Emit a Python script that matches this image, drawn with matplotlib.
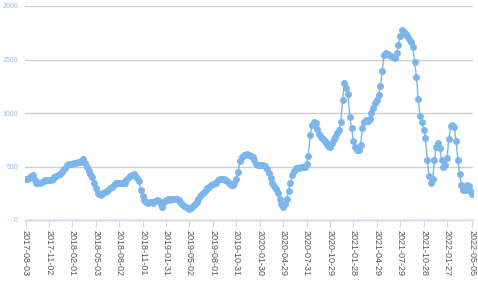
import matplotlib
matplotlib.use("Agg")
import matplotlib.pyplot as plt
import numpy as np

# weekly values, one row per quarter (13 weeks)
values = [
    385, 385, 392, 415, 425, 370, 350, 345, 350, 355, 362, 370, 370,
    370, 372, 385, 398, 408, 418, 430, 445, 465, 485, 510, 520, 525,
    528, 532, 535, 538, 540, 550, 568, 530, 495, 455, 430, 405, 350,
    300, 255, 240, 238, 250, 260, 270, 282, 295, 310, 328, 343, 348,
    350, 350, 346, 348, 370, 395, 408, 420, 430, 415, 395, 360, 280,
    220, 185, 170, 160, 165, 170, 160, 175, 190, 175, 150, 125, 165,
    190, 192, 188, 192, 195, 200, 198, 185, 165, 148, 135, 118, 110,
    105, 112, 128, 150, 172, 198, 220, 245, 265, 282, 298, 312, 325,
    340, 345, 345, 375, 385, 385, 382, 378, 365, 345, 330, 330, 345,
    380, 450, 550, 590, 605, 610, 615, 610, 600, 590, 560, 520, 510,
    510, 510, 510, 505, 480, 440, 390, 350, 320, 290, 255, 200, 145,
    120, 150, 200, 270, 350, 420, 460, 485, 490, 490, 492, 495, 500,
    525, 600, 790, 890, 915, 910, 850, 800, 775, 755, 735, 718, 695,
    685, 720, 755, 780, 810, 840, 920, 1120, 1280, 1230, 1180, 960, 860,
    740, 680, 655, 655, 700, 860, 920, 935, 925, 940, 1000, 1050, 1090,
    1120, 1170, 1250, 1390, 1540, 1560, 1555, 1545, 1535, 1520, 1515, 1560, 1640,
    1720, 1780, 1760, 1740, 1720, 1690, 1660, 1620, 1480, 1340, 1130, 970, 920,
    845, 770, 560, 410, 345, 380, 560, 680, 715, 670, 560, 500, 510,
    580, 760, 880, 885, 870, 740, 560, 430, 330, 285, 280, 330, 320, 270, 245,
]

tick_labels = ["2017-08-03", "2017-11-02", "2018-02-01", "2018-05-03", "2018-08-02",
               "2018-11-01", "2019-01-31", "2019-05-02", "2019-08-01", "2019-10-31",
               "2020-01-30", "2020-04-29", "2020-07-31", "2020-10-29", "2021-01-28",
               "2021-04-29", "2021-07-29", "2021-10-28", "2022-01-27", "2022-05-05"]
tick_index = [13 * k for k in range(19)] + [len(values) - 1]

y_ticks = [0, 500, 1000, 1500, 2000]

plt.rcParams['font.family'] = ['Liberation Sans Narrow', 'Liberation Sans', 'DejaVu Sans']

fig = plt.figure(figsize=(4.78, 2.85), dpi=100)
ax = fig.add_axes([25 / 478, 1 - 220 / 285, 448 / 478, 214 / 285])

x = np.arange(len(values))
ax.plot(x, values, color='#7cb5ec', lw=1.0, marker='o', markersize=5,
        markeredgewidth=0, zorder=3)

ax.set_xlim(-0.3, len(values) - 0.6)
ax.set_ylim(0, 2000)
ax.set_yticks(y_ticks)
ax.set_yticklabels([str(v) for v in y_ticks], color='#8fbcec', fontsize=5)
ax.tick_params(axis='y', length=0, pad=5)
ax.grid(axis='y', color='#cfcfcf', lw=1)
ax.set_axisbelow(True)

ax.set_xticks(tick_index)
ax.set_xticklabels(tick_labels, rotation=270, fontsize=6.5, color='#555555')
ax.tick_params(axis='x', length=5, color='#ccd6eb', width=0.8, pad=2)

for side in ['top', 'right', 'left']:
    ax.spines[side].set_visible(False)
ax.spines['bottom'].set_color('#ccd6eb')
ax.spines['bottom'].set_linewidth(1)

fig.savefig("out.png", dpi=100)
